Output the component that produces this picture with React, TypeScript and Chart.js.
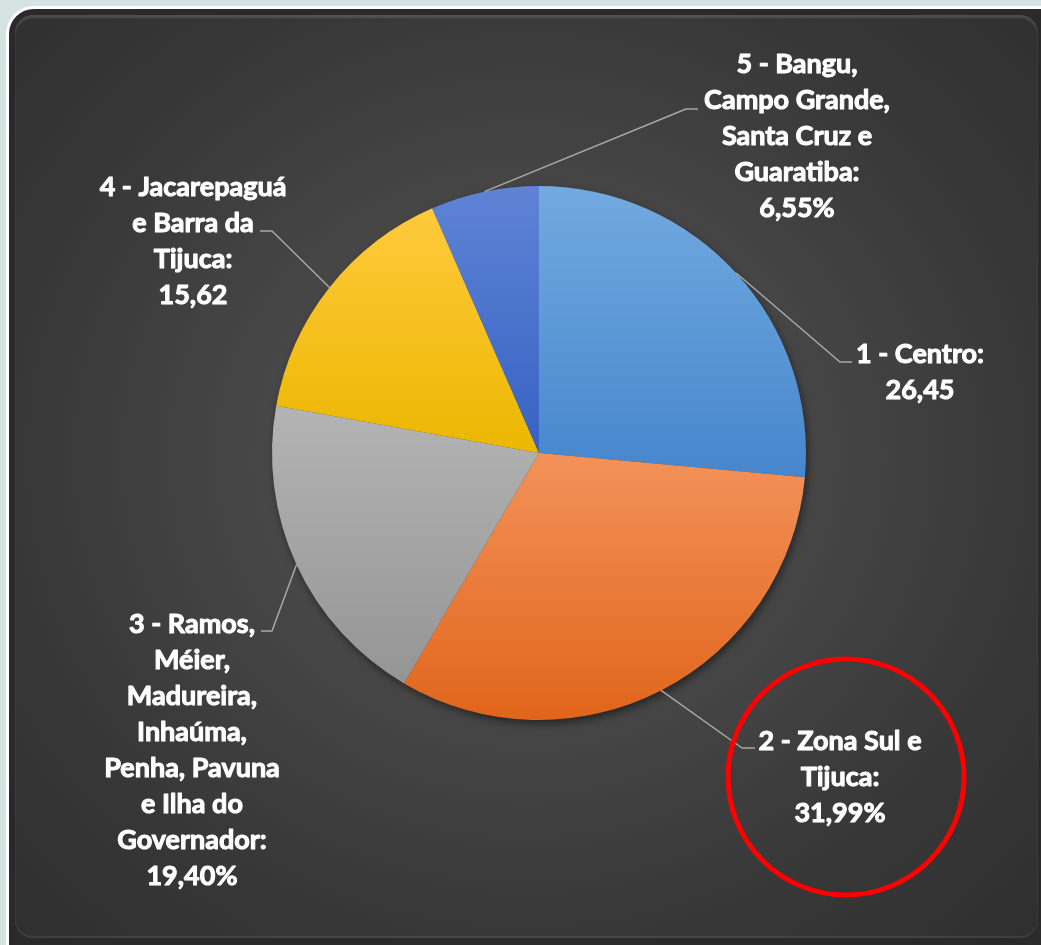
import React, { useEffect, useRef } from "react";
import { Chart, registerables } from "chart.js";

Chart.register(...registerables);

const categories = [
  "1 - Centro",
  "2 - Zona Sul e Tijuca",
  "3 - Ramos, Méier, Madureira, Inhaúma, Penha, Pavuna e Ilha do Governador",
  "4 - Jacarepaguá e Barra da Tijuca",
  "5 - Bangu, Campo Grande, Santa Cruz e Guaratiba",
];
const shares = [26.45, 31.99, 19.4, 15.62, 6.55];
const labelLines = [
  ["1 - Centro:", "26,45"],
  ["2 - Zona Sul e", "Tijuca:", "31,99%"],
  ["3 - Ramos,", "Méier,", "Madureira,", "Inhaúma,", "Penha, Pavuna", "e Ilha do", "Governador:", "19,40%"],
  ["4 - Jacarepaguá", "e Barra da", "Tijuca:", "15,62"],
  ["5 - Bangu,", "Campo Grande,", "Santa Cruz e", "Guaratiba:", "6,55%"],
];
const colorTop = ["#72aae0", "#f3925a", "#b4b4b4", "#ffca3c", "#5f84d6"];
const colorBottom = ["#4686cd", "#e1651b", "#959595", "#ebb700", "#3762c3"];

// label layout (text centre x, first baseline y, elbow point, tail length)
const labelPlacement = [
  { x: 920, y: 363, ex: 840, ey: 362, tail: 12 },
  { x: 840, y: 750, ex: 742, ey: 748, tail: 13 },
  { x: 192, y: 633, ex: 272, ey: 631, tail: -11 },
  { x: 193, y: 196, ex: 272, ey: 231, tail: -12 },
  { x: 797, y: 73, ex: 686, ey: 109, tail: 12 },
];
const lineGap = 36;
const highlight = { x: 846, y: 777, r: 118 };

function sliceGradient(ctx: any) {
  const i = ctx.dataIndex ?? 0;
  const chart = ctx.chart;
  const area = chart.chartArea;
  if (!area) return colorBottom[i];
  const cx = (area.left + area.right) / 2;
  const cy = (area.top + area.bottom) / 2;
  const r = Math.min(area.width, area.height) / 2;
  let total = 0;
  shares.forEach((v) => (total += v));
  let before = 0;
  for (let j = 0; j < i; j++) before += shares[j];
  const a0 = (before / total) * Math.PI * 2;
  const a1 = ((before + shares[i]) / total) * Math.PI * 2;
  const ys = [cy, cy - r * Math.cos(a0), cy - r * Math.cos(a1)];
  if (a0 <= 1e-6 || a1 >= Math.PI * 2 - 1e-6) ys.push(cy - r);
  if (a0 <= Math.PI && a1 >= Math.PI) ys.push(cy + r);
  const y0 = Math.min(...ys);
  const y1 = Math.max(...ys);
  const g = chart.ctx.createLinearGradient(0, y0, 0, y1);
  g.addColorStop(0, colorTop[i]);
  g.addColorStop(1, colorBottom[i]);
  return g;
}

const pieShadow = {
  id: "pieShadow",
  beforeDatasetsDraw(chart: any) {
    const meta = chart.getDatasetMeta(0);
    const el = meta.data[0];
    if (!el) return;
    const ctx = chart.ctx;
    ctx.save();
    ctx.shadowColor = "rgba(0,0,0,0.55)";
    ctx.shadowBlur = 10;
    ctx.shadowOffsetX = 2;
    ctx.shadowOffsetY = 4;
    ctx.fillStyle = "#444";
    ctx.beginPath();
    ctx.arc(el.x, el.y, el.outerRadius - 1, 0, Math.PI * 2);
    ctx.fill();
    ctx.restore();
  },
};

const outsideLabels = {
  id: "outsideLabels",
  afterDatasetsDraw(chart: any) {
    const ctx = chart.ctx;
    const meta = chart.getDatasetMeta(0);
    ctx.save();
    ctx.font = "700 100px Lato";
    const ref = ctx.measureText("Campo Grande,").width;
    const size = (100 * 186) / ref;
    meta.data.forEach((el: any, i: number) => {
      const p = labelPlacement[i];
      const mid = (el.startAngle + el.endAngle) / 2;
      const sx = el.x + Math.cos(mid) * el.outerRadius;
      const sy = el.y + Math.sin(mid) * el.outerRadius;
      ctx.strokeStyle = "#a8a8a8";
      ctx.lineWidth = 1.5;
      ctx.beginPath();
      ctx.moveTo(sx, sy);
      ctx.lineTo(p.ex, p.ey);
      ctx.lineTo(p.ex + p.tail, p.ey);
      ctx.stroke();
      ctx.fillStyle = "#ffffff";
      ctx.strokeStyle = "#ffffff";
      ctx.lineWidth = 1;
      ctx.lineJoin = "round";
      ctx.font = `700 ${size}px Lato`;
      ctx.textAlign = "center";
      ctx.textBaseline = "alphabetic";
      labelLines[i].forEach((line, k) => {
        ctx.fillText(line, p.x, p.y + k * lineGap);
        ctx.strokeText(line, p.x, p.y + k * lineGap);
      });
    });
    ctx.restore();
  },
  afterDraw(chart: any) {
    const ctx = chart.ctx;
    ctx.save();
    ctx.strokeStyle = "#ff0000";
    ctx.lineWidth = 5;
    ctx.beginPath();
    ctx.arc(highlight.x, highlight.y, highlight.r, 0, Math.PI * 2);
    ctx.stroke();
    ctx.restore();
  },
};

export default function App() {
  const canvasRef = useRef<HTMLCanvasElement | null>(null);

  useEffect(() => {
    const canvas = canvasRef.current;
    if (!canvas) return;
    const chart = new Chart(canvas, {
      type: "pie",
      data: {
        labels: categories,
        datasets: [
          {
            data: shares,
            backgroundColor: sliceGradient as any,
            borderWidth: 0,
            hoverOffset: 0,
          },
        ],
      },
      options: {
        responsive: false,
        animation: false,
        devicePixelRatio: 1,
        layout: { padding: { left: 272, right: 235, top: 186, bottom: 225 } },
        plugins: {
          legend: { display: false },
          tooltip: { enabled: false },
        },
        events: [],
      },
      plugins: [pieShadow, outsideLabels],
    });
    return () => chart.destroy();
  }, []);

  return (
    <div
      style={{
        position: "fixed",
        left: 0,
        top: 0,
        width: 1041,
        height: 945,
        overflow: "hidden",
        background: "#d5e3e3",
      }}
    >
      <div
        style={{
          position: "absolute",
          left: 6,
          top: 6,
          width: 1100,
          height: 1000,
          border: "3px solid #ffffff",
          borderRadius: 28,
          background: "#2a2a2a",
          boxSizing: "border-box",
        }}
      />
      <div
        style={{
          position: "absolute",
          left: 15,
          top: 15,
          width: 1023,
          height: 923,
          borderRadius: 18,
          background:
            "radial-gradient(ellipse at 50% 48%, #545454 0%, #484848 35%, #383838 70%, #2f2f2f 100%)",
          boxShadow:
            "inset 0 3px 2px rgba(255,255,255,0.13), inset 0 -2px 1px rgba(255,255,255,0.08)",
        }}
      />
      <canvas
        ref={canvasRef}
        width={1041}
        height={945}
        style={{ position: "absolute", left: 0, top: 0, width: 1041, height: 945 }}
      />
    </div>
  );
}
